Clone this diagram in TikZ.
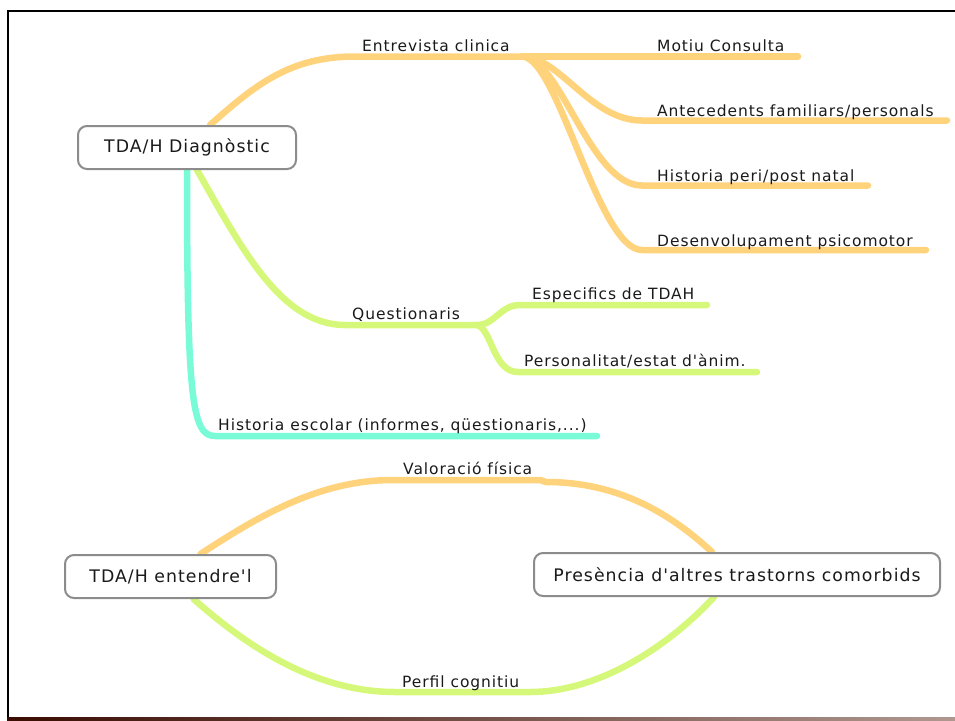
\documentclass[tikz,border=0pt]{standalone}
\usepackage{fontspec}
\newfontfamily\mapfont{DejaVu Sans}[LetterSpace=6]
\newfontfamily\topicfont{DejaVu Sans}[LetterSpace=6]
\definecolor{bOrange}{HTML}{FFD37C}
\definecolor{bGreen}{HTML}{D6F87A}
\definecolor{bTeal}{HTML}{78FBD6}
\definecolor{boxGray}{HTML}{8C8C8C}
\definecolor{ink}{HTML}{1A1A1A}
\definecolor{rimDark}{HTML}{3A0C02}
\definecolor{rimLight}{HTML}{B09890}
\begin{document}
\begin{tikzpicture}[x=1pt,y=-1pt,
  branch/.style={line width=6.5pt, line cap=round, line join=round},
  ob/.style={branch, draw=bOrange},
  gb/.style={branch, draw=bGreen},
  tb/.style={branch, draw=bTeal},
  topic/.style={draw=boxGray, line width=2pt, fill=white, rounded corners=9pt,
    minimum height=43pt, inner sep=0pt, text=ink, font=\topicfont\fontsize{17.3}{20}\selectfont},
  lbl/.style={anchor=base west, inner sep=0pt, text=ink, font=\mapfont\fontsize{15.5}{18}\selectfont}]
\useasboundingbox (0,0) rectangle (955,720);

% page frame
\draw[line width=2.5pt, black] (8,718) -- (8,11) -- (962,11);
\shade[left color=rimDark, right color=rimLight] (7,717) rectangle (955,720);

% topic boxes (positions first, drawn later on top of branches)
\path (187,147.5) node[topic, minimum width=218pt, draw=none, fill=none] (diag) {}
      (170.5,576.5) node[topic, minimum width=211pt, draw=none, fill=none] (ent) {}
      (737,574.5) node[topic, minimum width=406pt, draw=none, fill=none] (pres) {};

% junctions and branch ends
\coordinate (jE) at (522,56.5);
\coordinate (jQ) at (477,325);
\coordinate (eMot) at (798,56.5);
\coordinate (eAnt) at (947,120.5);
\coordinate (eHis) at (868,185.5);
\coordinate (eDes) at (926,250);
\coordinate (eEsp) at (707,305);
\coordinate (ePer) at (757,372);
\coordinate (eEsc) at (597,436);

% Entrevista clinica
\draw[ob] ([xshift=23pt]diag.north) .. controls (255,85) and (290,56.5) .. (355,56.5) -- (jE);
\draw[ob] (jE) -- (eMot);
\draw[ob] (jE) .. controls (560,56.5) and (590,120.5) .. (642,120.5) -- (eAnt);
\draw[ob] (jE) .. controls (560,56.5) and (590,185.5) .. (642,185.5) -- (eHis);
\draw[ob] (jE) .. controls (558,56.5) and (598,250) .. (642,250) -- (eDes);

% Questionaris
\draw[gb] ([xshift=10pt]diag.south) .. controls (240,245) and (280,325) .. (345,325) -- (jQ);
\draw[gb] (jQ) .. controls (495,325) and (500,305) .. (520,305) -- (eEsp);
\draw[gb] (jQ) .. controls (492,329) and (493,372) .. (518,372) -- (ePer);

% Historia escolar
\draw[tb] (diag.south) .. controls (187,400) and (192,436) .. (215,436) -- (eEsc);

% Valoracio fisica and Perfil cognitiu
\draw[ob] ([xshift=30pt]ent.north) .. controls (260,515) and (320,480) .. (393,480) -- (540,480)
  -- (546,482) .. controls (620,482) and (672,515) .. ([xshift=-25pt]pres.north);
\draw[gb] ([xshift=23pt]ent.south) .. controls (240,640) and (310,692) .. (395,692) -- (530,692)
  .. controls (600,692) and (670,645) .. ([xshift=-23pt]pres.south);

% topic boxes
\node[topic, minimum width=218pt] at (diag) {TDA/H Diagnòstic};
\node[topic, minimum width=211pt] at (ent) {TDA/H entendre'l};
\node[topic, minimum width=406pt] at (pres) {Presència d'altres trastorns comorbids};

% branch labels
\node[lbl] (lEnt) at (362,51) {Entrevista clinica};
\node[lbl] (lMot) at (657,51) {Motiu Consulta};
\node[lbl] (lAnt) at (657,116) {Antecedents familiars/personals};
\node[lbl] (lHis) at (657,181) {Historia peri/post natal};
\node[lbl] (lDes) at (657,246) {Desenvolupament psicomotor};
\node[lbl] (lQue) at (352,319) {Questionaris};
\node[lbl] (lEsp) at (532,299) {Especifics de TDAH};
\node[lbl] (lPer) at (524,366) {Personalitat/estat d'ànim.};
\node[lbl] (lEsc) at (218,430) {Historia escolar (informes, qüestionaris,...)};
\node[lbl] (lVal) at (403,474) {Valoració física};
\node[lbl] (lPerf) at (402,687) {Perfil cognitiu};
\end{tikzpicture}
\end{document}
